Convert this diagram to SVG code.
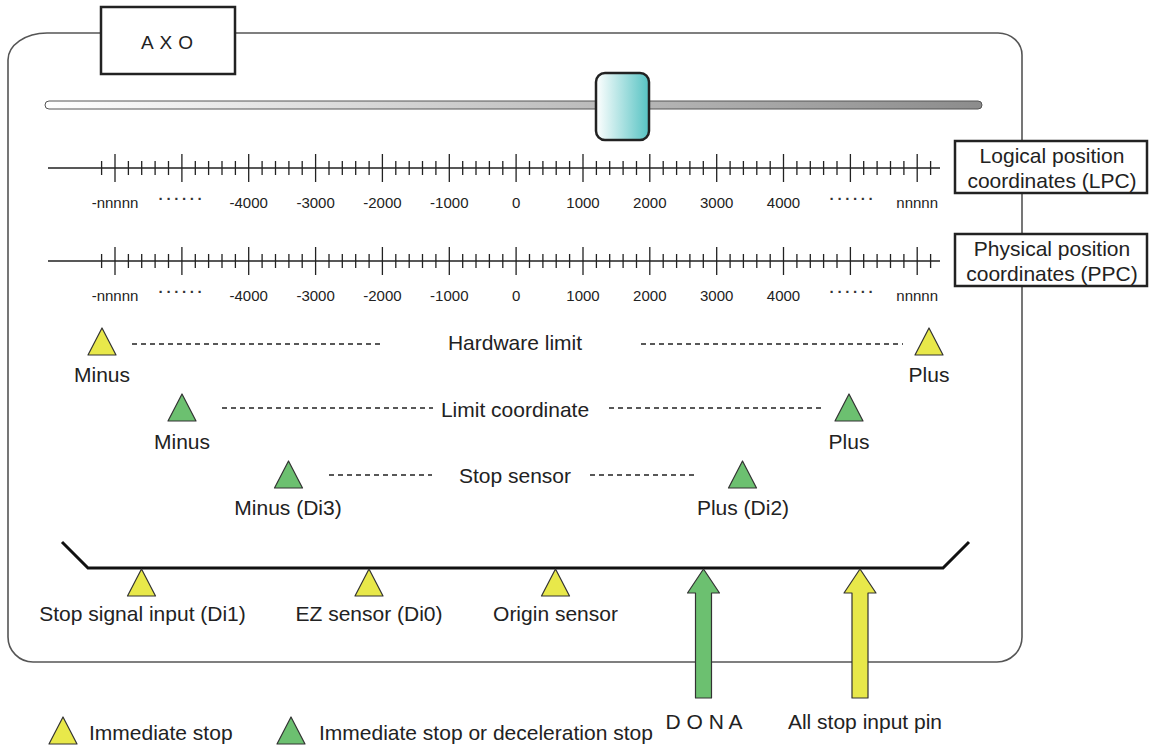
<svg xmlns="http://www.w3.org/2000/svg" width="1156" height="747" viewBox="0 0 1156 747">
<defs>
<linearGradient id="trackG" x1="0" y1="0" x2="1" y2="0">
<stop offset="0" stop-color="#ffffff"/><stop offset="1" stop-color="#8c8c8c"/>
</linearGradient>
<linearGradient id="knobG" x1="0" y1="0" x2="1" y2="0">
<stop offset="0" stop-color="#ffffff"/><stop offset="1" stop-color="#56c3c3"/>
</linearGradient>
<path id="ticks" d="M101.6 -7V7 M115 -14V14 M128.4 -7V7 M141.7 -7V7 M155.1 -7V7 M168.5 -7V7 M181.9 -14V14 M195.3 -7V7 M208.6 -7V7 M222 -7V7 M235.4 -7V7 M248.7 -14V14 M262.1 -7V7 M275.5 -7V7 M288.9 -7V7 M302.2 -7V7 M315.6 -14V14 M329 -7V7 M342.3 -7V7 M355.7 -7V7 M369.1 -7V7 M382.4 -14V14 M395.8 -7V7 M409.2 -7V7 M422.5 -7V7 M435.9 -7V7 M449.3 -14V14 M462.7 -7V7 M476 -7V7 M489.4 -7V7 M502.8 -7V7 M516.1 -14V14 M529.5 -7V7 M542.9 -7V7 M556.2 -7V7 M569.6 -7V7 M583 -14V14 M596.4 -7V7 M609.7 -7V7 M623.1 -7V7 M636.5 -7V7 M649.8 -14V14 M663.2 -7V7 M676.6 -7V7 M689.9 -7V7 M703.3 -7V7 M716.7 -14V14 M730.1 -7V7 M743.4 -7V7 M756.8 -7V7 M770.2 -7V7 M783.5 -14V14 M796.9 -7V7 M810.3 -7V7 M823.6 -7V7 M837 -7V7 M850.4 -14V14 M863.7 -7V7 M877.1 -7V7 M890.5 -7V7 M903.9 -7V7 M917.2 -14V14 M930.6 -7V7 M48 0H940"/>
<path id="triY" d="M0 0 L14 27 L-14 27 Z" fill="#e8e84a" stroke="#333" stroke-width="1.2" stroke-linejoin="round"/>
<path id="triG" d="M0 0 L14 27 L-14 27 Z" fill="#6cc070" stroke="#333" stroke-width="1.2" stroke-linejoin="round"/>
</defs>
<style>
text{font-family:"Liberation Sans",Arial,sans-serif;fill:#222}
.t{font-size:21px;text-anchor:middle}
.n{font-size:15px;text-anchor:middle}
.d{font-size:15px;text-anchor:middle;letter-spacing:2.8px;font-weight:bold;fill:#333}
.ax{stroke:#222;stroke-width:1.3;fill:none}
.dash{stroke:#222;stroke-width:1.3;stroke-dasharray:5 4;fill:none}
.box{fill:#fff;stroke:#222;stroke-width:2.5}
</style>
<g id="frame">
<path d="M47 33 L998 33 A24 22 0 0 1 1022 55 L1022 637 A25 25 0 0 1 997 662 L33 662 A25 25 0 0 1 8 637 L8 60 A39 27 0 0 1 47 33 Z" fill="none" stroke="#555" stroke-width="1.6"/>
</g>
<g id="axo">
<rect class="box" x="101" y="7" width="134" height="67"/>
<text x="170" y="49" style="font-size:19px;letter-spacing:6px" text-anchor="middle">AXO</text>
</g>
<g id="slider">
<rect x="45" y="101" width="937" height="8" rx="4" fill="url(#trackG)" stroke="#555" stroke-width="1"/>
<rect x="596" y="73" width="53" height="67" rx="9" fill="url(#knobG)" stroke="#222" stroke-width="2.5"/>
</g>
<g id="lpc-axis">
<use href="#ticks" class="ax" transform="translate(0,168)"/>
<text x="115" y="208" class="n">-nnnnn</text>
<text x="182" y="204" class="d">······</text>
<text x="248.7" y="208" class="n">-4000</text>
<text x="315.6" y="208" class="n">-3000</text>
<text x="382.4" y="208" class="n">-2000</text>
<text x="449.3" y="208" class="n">-1000</text>
<text x="516.1" y="208" class="n">0</text>
<text x="583" y="208" class="n">1000</text>
<text x="649.8" y="208" class="n">2000</text>
<text x="716.7" y="208" class="n">3000</text>
<text x="783.5" y="208" class="n">4000</text>
<text x="853" y="204" class="d">······</text>
<text x="917.2" y="208" class="n">nnnnn</text>
</g>
<g id="ppc-axis">
<use href="#ticks" class="ax" transform="translate(0,261)"/>
<text x="115" y="301" class="n">-nnnnn</text>
<text x="182" y="297" class="d">······</text>
<text x="248.7" y="301" class="n">-4000</text>
<text x="315.6" y="301" class="n">-3000</text>
<text x="382.4" y="301" class="n">-2000</text>
<text x="449.3" y="301" class="n">-1000</text>
<text x="516.1" y="301" class="n">0</text>
<text x="583" y="301" class="n">1000</text>
<text x="649.8" y="301" class="n">2000</text>
<text x="716.7" y="301" class="n">3000</text>
<text x="783.5" y="301" class="n">4000</text>
<text x="853" y="297" class="d">······</text>
<text x="917.2" y="301" class="n">nnnnn</text>
</g>
<g id="lpc-box">
<rect class="box" x="955" y="141" width="192" height="52"/>
<text class="t" x="1052" y="163">Logical position</text>
<text class="t" x="1052" y="188">coordinates (LPC)</text>
</g>
<g id="ppc-box">
<rect class="box" x="955" y="234" width="192" height="52"/>
<text class="t" x="1052" y="256">Physical position</text>
<text class="t" x="1052" y="281">coordinates (PPC)</text>
</g>
<g id="connectors">
<path class="dash" d="M132 344H383 M641 344H903"/>
<path class="dash" d="M222 408H433 M609 408H823"/>
<path class="dash" d="M329 475H432 M590 475H697"/>
<path d="M62 542 L88 568 L943 568 L969 542" fill="none" stroke="#111" stroke-width="3"/>
</g>
<g id="hardware-limit">
<use href="#triY" x="102" y="328"/>
<use href="#triY" x="929" y="328"/>
<text class="t" x="102" y="382">Minus</text>
<text class="t" x="929" y="382">Plus</text>
<text class="t" x="515" y="350">Hardware limit</text>
</g>
<g id="limit-coordinate">
<use href="#triG" x="182" y="394"/>
<use href="#triG" x="849" y="394"/>
<text class="t" x="182" y="449">Minus</text>
<text class="t" x="849" y="449">Plus</text>
<text class="t" x="515" y="417">Limit coordinate</text>
</g>
<g id="stop-sensor">
<use href="#triG" x="288.5" y="461"/>
<use href="#triG" x="742.5" y="461"/>
<text class="t" x="288" y="515">Minus (Di3)</text>
<text class="t" x="743" y="515">Plus (Di2)</text>
<text class="t" x="515" y="483">Stop sensor</text>
</g>
<g id="stop-signal-input">
<use href="#triY" x="141.5" y="569"/>
<text class="t" x="142.5" y="621">Stop signal input (Di1)</text>
</g>
<g id="ez-sensor">
<use href="#triY" x="369" y="569"/>
<text class="t" x="369" y="621">EZ sensor (Di0)</text>
</g>
<g id="origin-sensor">
<use href="#triY" x="555.5" y="569"/>
<text class="t" x="555.5" y="621">Origin sensor</text>
</g>
<g id="dona">
<path d="M703.5 569 L719.5 593 L711.5 593 L711.5 698 L695.5 698 L695.5 593 L687.5 593 Z" fill="#6cc070" stroke="#333" stroke-width="1.2" stroke-linejoin="round"/>
<text class="t" x="704" y="729">D O N A</text>
</g>
<g id="all-stop">
<path d="M860 569 L876 593 L868 593 L868 698 L852 698 L852 593 L844 593 Z" fill="#e8e84a" stroke="#333" stroke-width="1.2" stroke-linejoin="round"/>
<text class="t" x="865" y="729">All stop input pin</text>
</g>
<g id="legend">
<use href="#triY" x="63" y="717"/>
<text x="89" y="740" style="font-size:21px">Immediate stop</text>
<use href="#triG" x="291" y="717"/>
<text x="319" y="740" style="font-size:21px">Immediate stop or deceleration stop</text>
</g>
</svg>
